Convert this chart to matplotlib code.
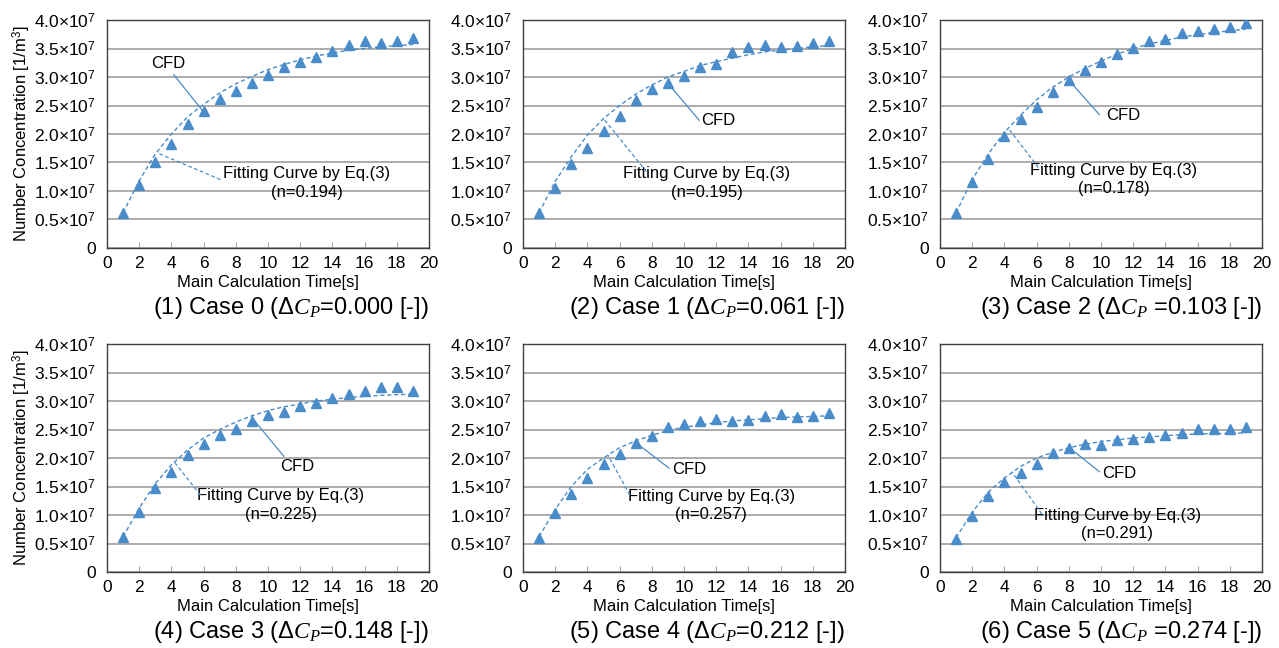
import numpy as np
import matplotlib
matplotlib.use("Agg")
import matplotlib.pyplot as plt

plt.rcParams['font.family'] = ['Liberation Sans', 'DejaVu Sans']
plt.rcParams['mathtext.fontset'] = 'custom'
plt.rcParams['mathtext.rm'] = 'Liberation Sans'
plt.rcParams['mathtext.it'] = 'Liberation Serif:italic'

# data (values in 1e7 [1/m3])
t = [1, 2, 3, 4, 5, 6, 7, 8, 9, 10, 11, 12, 13, 14, 15, 16, 17, 18, 19]

cfd0 = [0.62, 1.11, 1.50, 1.83, 2.17, 2.40, 2.61, 2.75, 2.89, 3.03, 3.17, 3.26, 3.35, 3.46, 3.56, 3.63, 3.60, 3.63, 3.69]
cfd1 = [0.61, 1.06, 1.47, 1.75, 2.05, 2.32, 2.60, 2.79, 2.89, 3.02, 3.18, 3.23, 3.43, 3.53, 3.56, 3.53, 3.54, 3.59, 3.64]
cfd2 = [0.62, 1.16, 1.57, 1.96, 2.27, 2.48, 2.74, 2.94, 3.13, 3.26, 3.40, 3.51, 3.64, 3.67, 3.77, 3.81, 3.84, 3.88, 3.95]
cfd3 = [0.61, 1.06, 1.47, 1.75, 2.06, 2.24, 2.41, 2.51, 2.65, 2.75, 2.81, 2.91, 2.97, 3.06, 3.12, 3.18, 3.24, 3.24, 3.18]
cfd4 = [0.59, 1.04, 1.37, 1.65, 1.90, 2.07, 2.27, 2.39, 2.55, 2.59, 2.65, 2.69, 2.65, 2.67, 2.73, 2.77, 2.72, 2.74, 2.79]
cfd5 = [0.58, 0.99, 1.33, 1.58, 1.73, 1.90, 2.09, 2.18, 2.24, 2.22, 2.32, 2.34, 2.36, 2.41, 2.44, 2.51, 2.51, 2.51, 2.55]

fit0 = [0.62, 1.18, 1.65, 2.00, 2.30, 2.52, 2.72, 2.88, 3.01, 3.13, 3.22, 3.30, 3.37, 3.42, 3.47, 3.50, 3.53, 3.55, 3.57]
fit1 = [0.62, 1.17, 1.60, 1.98, 2.27, 2.50, 2.70, 2.86, 3.00, 3.10, 3.20, 3.27, 3.33, 3.39, 3.44, 3.47, 3.50, 3.53, 3.55]
fit2 = [0.62, 1.20, 1.65, 2.03, 2.33, 2.60, 2.82, 3.00, 3.15, 3.28, 3.40, 3.50, 3.58, 3.64, 3.70, 3.74, 3.78, 3.81, 3.84]
fit3 = [0.62, 1.12, 1.55, 1.88, 2.14, 2.35, 2.50, 2.63, 2.74, 2.83, 2.90, 2.95, 3.00, 3.03, 3.06, 3.08, 3.10, 3.11, 3.12]
fit4 = [0.62, 1.10, 1.50, 1.80, 2.00, 2.18, 2.30, 2.40, 2.48, 2.54, 2.58, 2.62, 2.65, 2.67, 2.69, 2.71, 2.72, 2.73, 2.74]
fit5 = [0.60, 1.05, 1.40, 1.65, 1.85, 2.00, 2.10, 2.18, 2.24, 2.29, 2.32, 2.35, 2.37, 2.39, 2.41, 2.42, 2.43, 2.43, 2.44]

n_values = ["0.194", "0.195", "0.178", "0.225", "0.257", "0.291"]
dcp_values = ["0.000", "0.061", "0.103", "0.148", "0.212", "0.274"]

cfd_all = [cfd0, cfd1, cfd2, cfd3, cfd4, cfd5]
fit_all = [fit0, fit1, fit2, fit3, fit4, fit5]

# annotation layout: (CFD text xy, CFD leader), (fit text xy, fit leader)
cfd_text = [(3.8, 3.23), (12.1, 2.24), (11.4, 2.32), (11.8, 1.85), (10.3, 1.79), (11.1, 1.73)]
cfd_line = [((4.15, 3.04), (5.9, 2.42)), ((10.95, 2.24), (9.0, 2.89)), ((9.9, 2.34), (7.98, 2.95)),
            ((10.98, 2.03), (9.12, 2.67)), ((9.08, 1.82), (7.05, 2.26)), ((9.9, 1.76), (8.08, 2.17))]
fit_text = [(12.4, 1.14), (11.4, 1.14), (10.8, 1.20), (10.8, 1.18), (11.7, 1.17), (11.0, 0.83)]
fit_line = [((7.05, 1.20), (3.2, 1.66)), ((7.67, 1.34), (4.97, 2.28)), ((6.11, 1.41), (4.25, 2.10)),
            ((5.8, 1.35), (4.15, 1.94)), ((6.63, 1.35), (5.28, 2.05)), ((6.32, 1.02), (4.46, 1.76))]

blue = '#4a8bc9'
lefts = [107, 523, 940]
tops = [20, 344]
W, H = 1279, 648

fig = plt.figure(figsize=(12.79, 6.48), dpi=100)

for i in range(6):
    r, c = divmod(i, 3)
    ax = fig.add_axes([lefts[c] / W, 1 - (tops[r] + 228) / H, 322 / W, 228 / H])
    y_cfd = np.array(cfd_all[i]) * 1e7
    y_fit = np.array(fit_all[i]) * 1e7
    ax.plot(t, y_fit, linestyle=(0, (3, 2)), color=blue, lw=1.0, zorder=3)
    ax.plot(t, y_cfd, linestyle='none', marker='^', color=blue, ms=7, zorder=4)

    ax.set_xlim(0, 20)
    ax.set_ylim(0, 4e7)
    ax.set_xticks(range(0, 21, 2))
    yt = np.arange(0, 4.01e7, 0.5e7)
    ax.set_yticks(yt)
    ax.set_yticklabels(['0'] + [f"{v/1e7:.1f}×10$^7$" for v in yt[1:]])
    ax.grid(axis='y', color='#a6a6a6', lw=1.3)
    ax.set_axisbelow(True)
    for s in ax.spines.values():
        s.set_color('#404040')
        s.set_linewidth(1.0)
    ax.tick_params(axis='x', direction='in', length=4, color='#a6a6a6', labelsize=12.5, pad=6)
    ax.tick_params(axis='y', length=0, labelsize=12.5, pad=8)
    ax.set_xlabel('Main Calculation Time[s]', fontsize=12, labelpad=3)
    if c == 0:
        ax.set_ylabel('Number Concentration [1/m$^3$]', fontsize=12, labelpad=1)

    # CFD label
    (x0, y0), (x1, y1) = cfd_line[i]
    ax.plot([x0, x1], [y0 * 1e7, y1 * 1e7], color=blue, lw=0.9, zorder=5)
    ax.text(cfd_text[i][0], cfd_text[i][1] * 1e7, 'CFD', fontsize=12, ha='center', va='center')

    # fitting curve label
    (x0, y0), (x1, y1) = fit_line[i]
    ax.plot([x0, x1], [y0 * 1e7, y1 * 1e7], color=blue, lw=0.9, linestyle=(0, (3, 2)), zorder=5)
    ax.text(fit_text[i][0], fit_text[i][1] * 1e7,
            'Fitting Curve by Eq.(3)\n(n=' + n_values[i] + ')',
            fontsize=12, ha='center', va='center', linespacing=1.3)

    # subtitle
    sp = ' ' if i in (2, 5) else ''
    ax.text(1.0, -0.205, f"({i+1}) Case {i} ($\\Delta C_P$" + sp + f"={dcp_values[i]} [-])",
            transform=ax.transAxes, ha='right', va='top', fontsize=17)

fig.savefig('out.png', dpi=100)
